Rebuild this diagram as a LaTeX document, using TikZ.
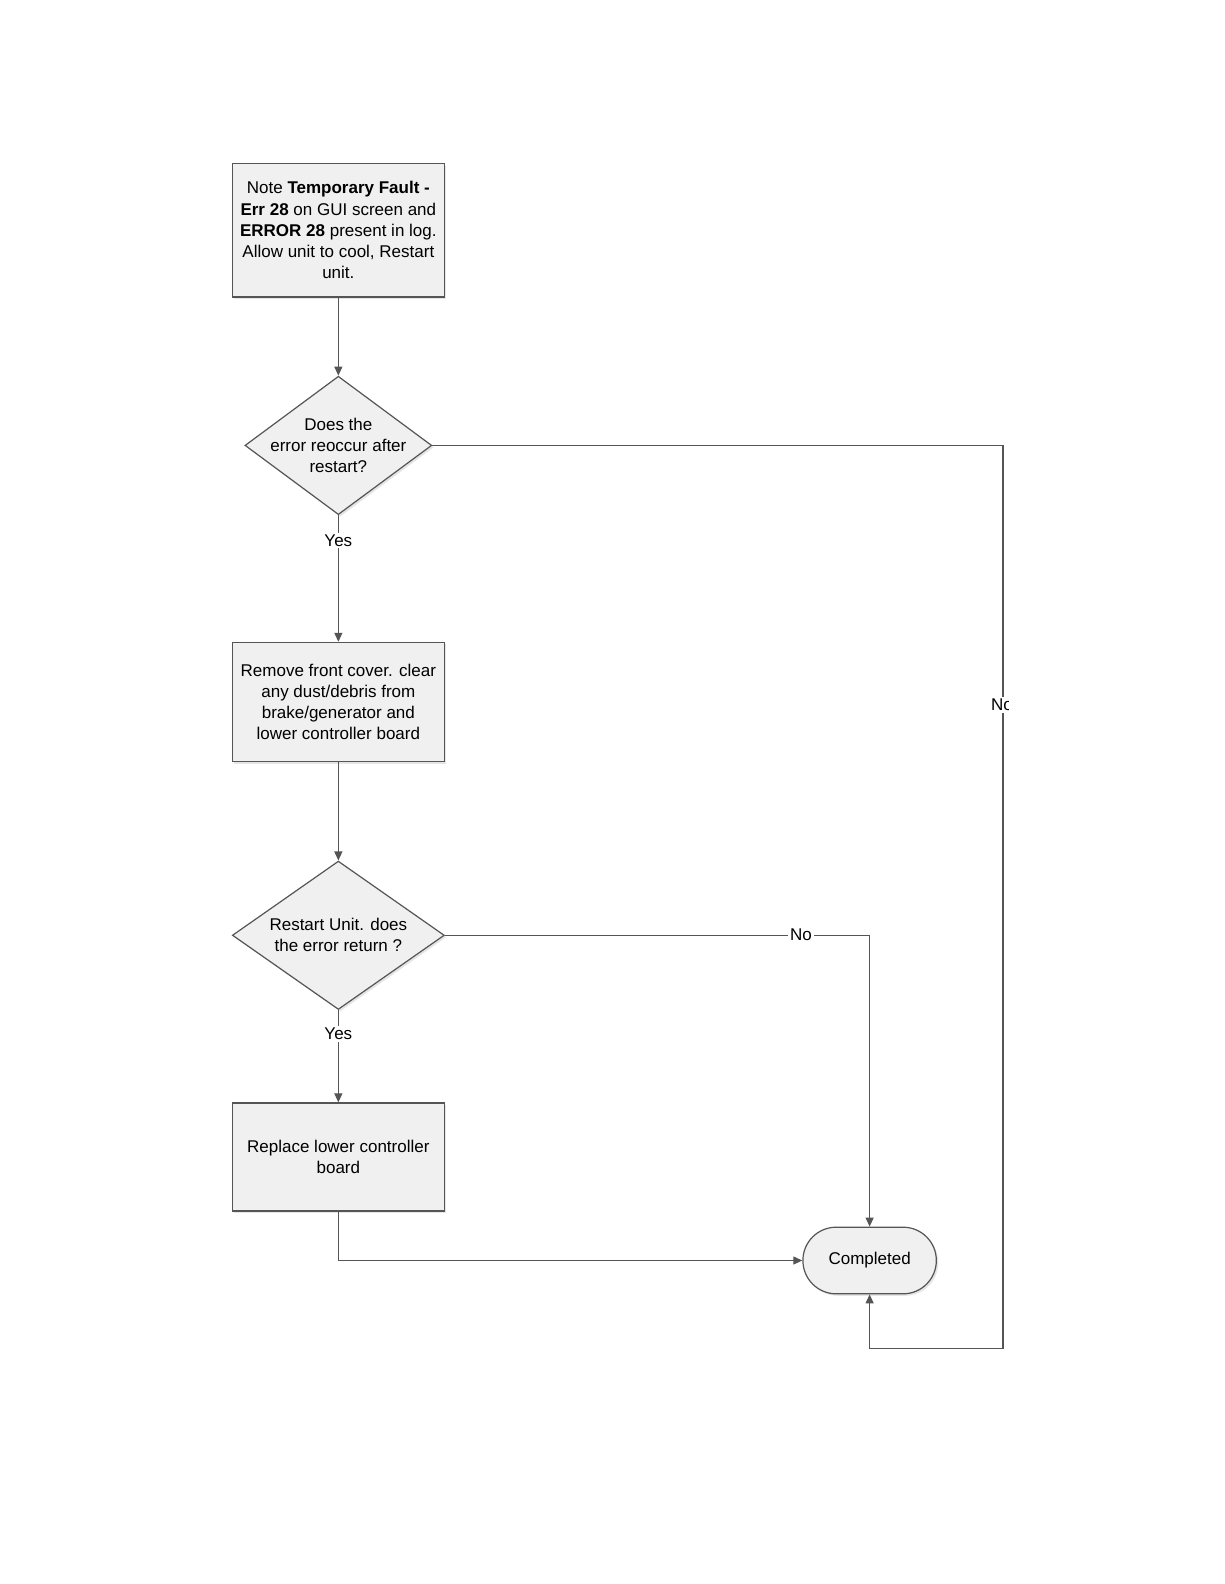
\documentclass[tikz,border=0pt]{standalone}
\usepackage{fontspec}
\setmainfont{Liberation Sans}
\usetikzlibrary{shapes.geometric,arrows.meta,shadows}
\definecolor{lncol}{RGB}{85,85,85}
\definecolor{boxfill}{RGB}{240,240,240}
\begin{document}
\begin{tikzpicture}[x=0.505pt,y=-0.505pt,
  every node/.style={font=\fontsize{8.5}{10.6}\selectfont, text=black},
  procbox/.style={draw=lncol, line width=0.6pt, fill=boxfill, minimum width=106pt, align=center, inner sep=2pt,
    drop shadow={shadow xshift=1pt, shadow yshift=-1pt, fill=black!20}},
  decbox/.style={diamond, draw=lncol, line width=0.6pt, fill=boxfill, inner sep=0pt,
    drop shadow={shadow xshift=1pt, shadow yshift=-1pt, fill=black!20}},
  dectext/.style={align=center, inner sep=0pt},
  termbox/.style={draw=lncol, line width=0.6pt, fill=boxfill, rounded corners=16.6pt, minimum width=66.7pt, minimum height=33.3pt,
    drop shadow={shadow xshift=1pt, shadow yshift=-1pt, fill=black!20}},
  conn/.style={draw=lncol, line width=0.6pt, -{Triangle[length=4.5pt,width=4pt]}},
  lbl/.style={fill=white, inner sep=1pt}
]
\useasboundingbox (0,0) rectangle (1211.9,1568.3);
\fill[white] (0,0) rectangle (1211.9,1568.3);

\node[procbox, minimum height=66.7pt] (b1) at (335,228)
  {Note \textbf{Temporary Fault -}\\\textbf{Err 28} on GUI screen and\\\textbf{ERROR 28} present in log.\\Allow unit to cool, Restart\\unit.};

\node[decbox, minimum width=93.4pt, minimum height=69.2pt] (d1) at (335,441) {};
\node[dectext] (d1t) at (335,441) {Does the\\error reoccur after\\restart?};

\node[procbox, minimum height=59.6pt] (b2) at (335,695)
  {Remove front cover. clear\\any dust/debris from\\brake/generator and\\lower controller board};

\node[decbox, minimum width=106pt, minimum height=74.2pt] (d2) at (335,926) {};
\node[dectext] (d2t) at (335,926) {Restart Unit. does\\the error return ?};

\node[procbox, minimum height=54pt] (b3) at (335,1145.5)
  {Replace lower controller\\board};

\node[termbox] (c) at (861,1248) {Completed};

\coordinate (r1) at (993,441);
\coordinate (r2) at (993,1335);
\coordinate (r3) at (861,1335);
\coordinate (n1) at (861,926);
\coordinate (k1) at (335,1248);

\draw[conn] (b1.south) -- (d1.north);
\draw[conn] (d1.south) -- node[lbl, pos=0.2] (y1) {Yes} (b2.north);
\draw[conn] (b2.south) -- (d2.north);
\draw[conn] (d2.south) -- node[lbl, pos=0.26] (y2) {Yes} (b3.north);
\draw[conn] (d2.east) -- (n1) -- (c.north);
\node[lbl] (no2) at (793,925) {No};
\draw[conn] (b3.south) -- (k1) -- (c.west);
\draw[conn] (d1.east) -- (r1) -- (r2) -- (r3) -- (c.south);
\begin{scope}
  \clip (940,600) rectangle (998,800);
  \node[lbl] (no1) at (992,698) {No};
\end{scope}
\end{tikzpicture}
\end{document}
